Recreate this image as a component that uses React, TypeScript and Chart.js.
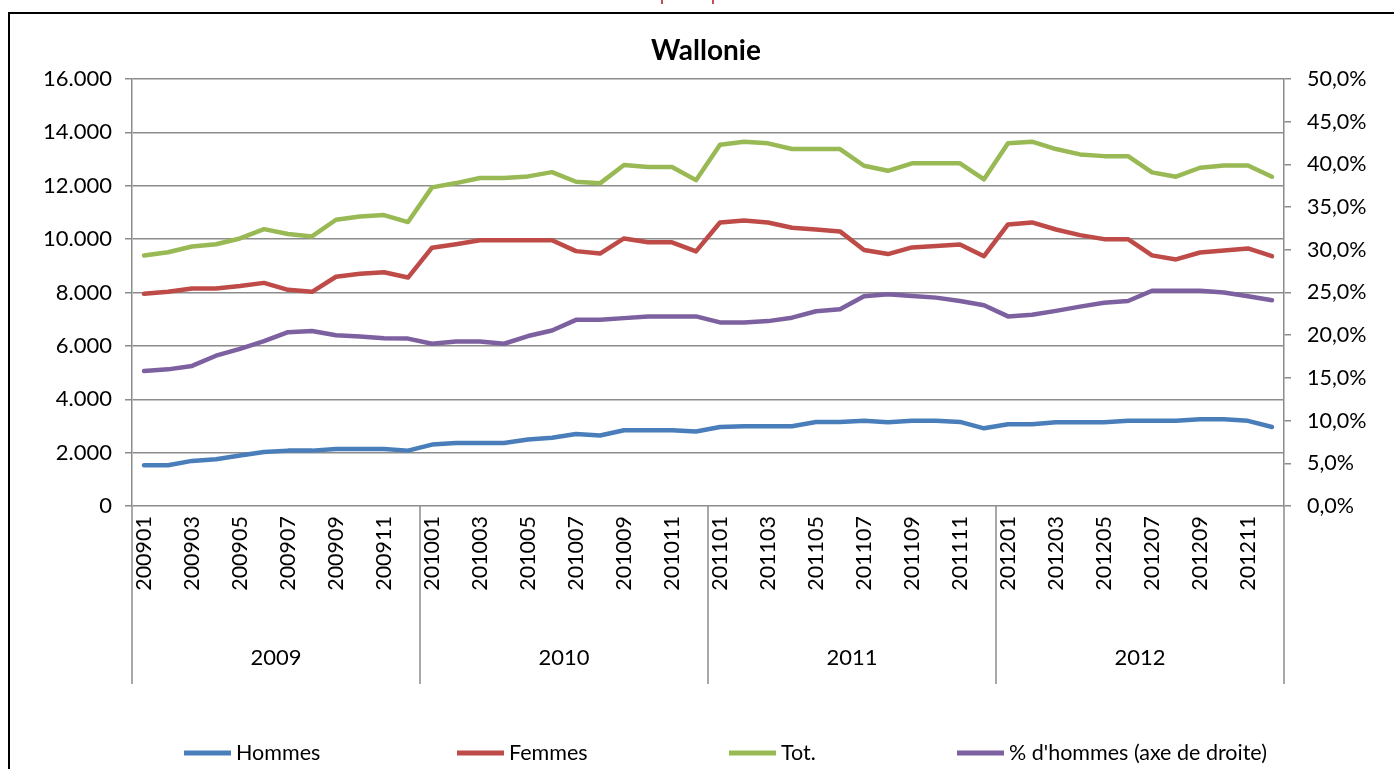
import React, { useEffect, useRef } from "react";
import { Chart, registerables } from "chart.js";

Chart.register(...registerables);

const categories = [
  "200901", "200902", "200903", "200904", "200905", "200906", "200907", "200908", "200909", "200910", "200911", "200912",
  "201001", "201002", "201003", "201004", "201005", "201006", "201007", "201008", "201009", "201010", "201011", "201012",
  "201101", "201102", "201103", "201104", "201105", "201106", "201107", "201108", "201109", "201110", "201111", "201112",
  "201201", "201202", "201203", "201204", "201205", "201206", "201207", "201208", "201209", "201210", "201211", "201212",
];

const years = ["2009", "2010", "2011", "2012"];

const seriesNames = ["Hommes", "Femmes", "Tot.", "% d'hommes (axe de droite)"];

const hommes = [
  1525, 1525, 1690, 1750, 1890, 2025, 2075, 2075, 2140, 2140, 2140, 2075,
  2300, 2360, 2360, 2360, 2490, 2560, 2700, 2640, 2840, 2840, 2840, 2790,
  2960, 2990, 2990, 2990, 3150, 3150, 3190, 3140, 3190, 3190, 3150, 2910,
  3060, 3060, 3140, 3140, 3140, 3190, 3190, 3190, 3250, 3250, 3190, 2960,
];

const femmes = [
  7950, 8025, 8150, 8150, 8240, 8360, 8100, 8025, 8590, 8700, 8760, 8560,
  9680, 9810, 9960, 9960, 9960, 9960, 9550, 9460, 10025, 9880, 9880, 9540,
  10625, 10700, 10625, 10425, 10360, 10290, 9590, 9440, 9690, 9740, 9800, 9360,
  10550, 10625, 10360, 10150, 10000, 10000, 9390, 9240, 9500, 9575, 9650, 9360,
];

const tot = [
  9390, 9510, 9725, 9810, 10025, 10375, 10190, 10100, 10725, 10850, 10900, 10640,
  11940, 12100, 12290, 12290, 12350, 12510, 12150, 12090, 12775, 12700, 12700, 12210,
  13540, 13650, 13590, 13375, 13375, 13375, 12750, 12560, 12840, 12840, 12840, 12240,
  13590, 13650, 13375, 13175, 13110, 13110, 12500, 12340, 12675, 12760, 12760, 12340,
];

const pctHommes = [
  15.8, 16.0, 16.4, 17.6, 18.4, 19.3, 20.35, 20.5, 20.0, 19.85, 19.65, 19.6,
  19.0, 19.25, 19.25, 19.0, 19.9, 20.55, 21.8, 21.8, 22.0, 22.2, 22.2, 22.2,
  21.5, 21.5, 21.65, 22.05, 22.8, 23.05, 24.55, 24.8, 24.6, 24.4, 24.0, 23.5,
  22.2, 22.4, 22.85, 23.35, 23.8, 24.0, 25.2, 25.2, 25.2, 25.0, 24.55, 24.1,
];

const colors = ["#4a7ebb", "#be4b48", "#98b954", "#7d60a0"];

const FONT = "Lato";
const GRID = "#8c8c8c";

const fmtLeft = (v: number) => {
  if (v === 0) return "0";
  return (v / 1000).toFixed(3);
};
const fmtRight = (v: number) => v.toFixed(1).replace(".", ",") + "%";

const decorPlugin = {
  id: "decor",
  beforeDraw(chart: any) {
    const ctx = chart.ctx;
    ctx.save();
    ctx.fillStyle = "#ffffff";
    ctx.fillRect(0, 0, chart.width, chart.height);
    ctx.strokeStyle = "#000000";
    ctx.lineWidth = 2;
    ctx.strokeRect(9, 13, chart.width + 40, chart.height + 40);
    ctx.fillStyle = "#c0504d";
    ctx.fillRect(661, 0, 2, 4);
    ctx.fillRect(712, 0, 2, 4);
    ctx.restore();
  },
  afterDraw(chart: any) {
    const { ctx, chartArea, scales } = chart;
    const xs = scales.x;
    ctx.save();
    // title
    ctx.fillStyle = "#000";
    ctx.font = `bold 28px ${FONT}`;
    ctx.textAlign = "center";
    ctx.textBaseline = "middle";
    ctx.fillText("Wallonie", 706, 51);

    // group separators and year labels
    const n = years.length;
    const per = categories.length / n;
    const bounds: number[] = [];
    for (let g = 0; g <= n; g++) {
      if (g === 0) bounds.push(chartArea.left);
      else if (g === n) bounds.push(chartArea.right);
      else {
        const i = g * per;
        bounds.push((xs.getPixelForValue(i - 1) + xs.getPixelForValue(i)) / 2);
      }
    }
    ctx.strokeStyle = GRID;
    ctx.lineWidth = 1.5;
    ctx.beginPath();
    for (const b of bounds) {
      ctx.moveTo(b, chartArea.bottom);
      ctx.lineTo(b, 684);
    }
    ctx.stroke();
    ctx.font = `22px ${FONT}`;
    ctx.fillStyle = "#000";
    for (let g = 0; g < n; g++) {
      ctx.fillText(years[g], (bounds[g] + bounds[g + 1]) / 2, 658);
    }

    // legend
    const legendX = [184, 457, 729, 957];
    const ly = 753;
    ctx.textAlign = "left";
    ctx.font = `21.5px ${FONT}`;
    chart.data.datasets.forEach((ds: any, i: number) => {
      ctx.strokeStyle = ds.borderColor;
      ctx.lineWidth = 5;
      ctx.lineCap = "butt";
      ctx.beginPath();
      ctx.moveTo(legendX[i], ly);
      ctx.lineTo(legendX[i] + 47, ly);
      ctx.stroke();
      ctx.fillStyle = "#000";
      ctx.fillText(ds.label, legendX[i] + 52, ly);
    });
    ctx.restore();
  },
};

export default function App() {
  const ref = useRef<HTMLCanvasElement | null>(null);

  useEffect(() => {
    if (!ref.current) return;
    const mk = (label: string, data: number[], color: string, axis: string) => ({
      label,
      data,
      borderColor: color,
      backgroundColor: color,
      borderWidth: 4.5,
      pointRadius: 0,
      pointHoverRadius: 0,
      tension: 0,
      fill: false,
      borderJoinStyle: "round" as const,
      borderCapStyle: "round" as const,
      yAxisID: axis,
    });
    const chart = new Chart(ref.current, {
      type: "line",
      data: {
        labels: categories,
        datasets: [
          mk(seriesNames[0], hommes, colors[0], "y"),
          mk(seriesNames[1], femmes, colors[1], "y"),
          mk(seriesNames[2], tot, colors[2], "y"),
          mk(seriesNames[3], pctHommes, colors[3], "y1"),
        ],
      },
      options: {
        responsive: false,
        animation: false,
        devicePixelRatio: 1,
        layout: { padding: { top: 79, left: 0, right: 0, bottom: 0 } },
        plugins: {
          legend: { display: false },
          title: { display: false },
          tooltip: { enabled: false },
        },
        scales: {
          x: {
            type: "category",
            offset: true,
            grid: { display: false, drawTicks: false, tickLength: 0 },
            border: { display: false },
            ticks: {
              autoSkip: false,
              minRotation: 90,
              maxRotation: 90,
              padding: 10,
              color: "#000",
              font: { family: FONT, size: 21.5 },
              callback: (_v: any, i: number) => (i % 2 === 0 ? categories[i] : ""),
            },
            afterFit: (s: any) => {
              s.height = 263;
            },
          },
          y: {
            position: "left",
            min: 0,
            max: 16000,
            ticks: {
              stepSize: 2000,
              padding: 13,
              color: "#000",
              font: { family: FONT, size: 22 },
              callback: (v: any) => fmtLeft(Number(v)),
            },
            grid: { color: GRID, lineWidth: 1.5, tickLength: 7, drawTicks: true },
            border: { display: true, color: GRID, width: 1.5 },
            afterFit: (s: any) => {
              s.width = 132;
            },
          },
          y1: {
            position: "right",
            min: 0,
            max: 50,
            ticks: {
              stepSize: 5,
              padding: 16,
              color: "#000",
              font: { family: FONT, size: 21.5 },
              callback: (v: any) => fmtRight(Number(v)),
            },
            grid: { drawOnChartArea: false, color: GRID, lineWidth: 1.5, tickLength: 7, drawTicks: true },
            border: { display: true, color: GRID, width: 1.5 },
            afterFit: (s: any) => {
              s.width = 110;
            },
          },
        },
      },
      plugins: [decorPlugin],
    });
    return () => chart.destroy();
  }, []);

  return (
    <canvas
      ref={ref}
      width={1394}
      height={769}
      style={{ position: "absolute", left: 0, top: 0, width: 1394, height: 769, display: "block" }}
    />
  );
}
